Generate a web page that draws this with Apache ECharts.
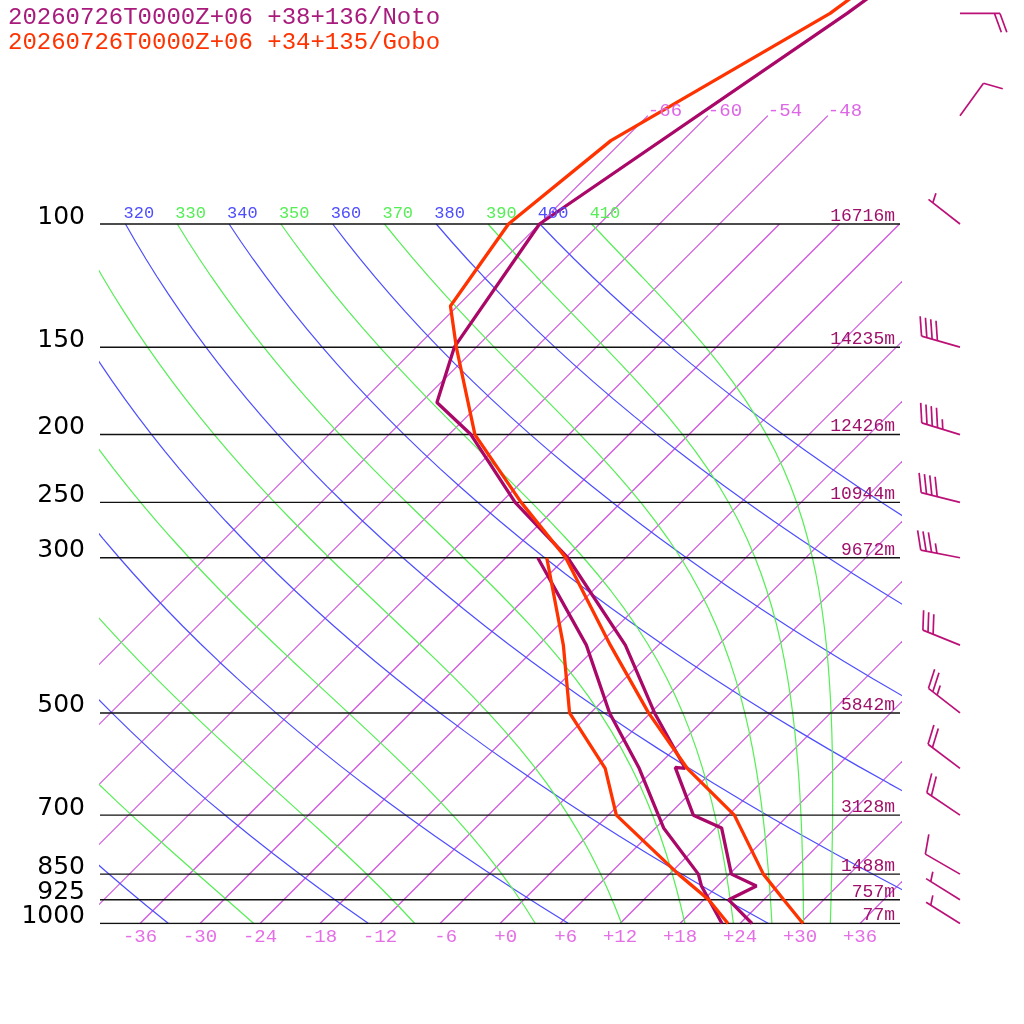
<!DOCTYPE html>
<html>
<head>
<meta charset="utf-8">
<title>Skew-T Noto / Gobo</title>
<script src="https://cdn.jsdelivr.net/npm/echarts@6/dist/echarts.min.js"></script>
<style>
  html, body { margin: 0; padding: 0; background: #fff; }
  #main { width: 1024px; height: 1024px; }
</style>
</head>
<body>
<div id="main"></div>
<script>
// plot geometry: 1000 hPa at the bottom, 45 degree isotherms
var DECADE_PX = 699.5, PLOT_H = 923.5, PLOT_W = 800;
var P_TOP = 1000 / Math.pow(10, PLOT_H / DECADE_PX);
var SKEW = DECADE_PX / Math.LN10 / (PLOT_W / 80);

// background lines
var isoTemps = [-66, -60, -54, -48, -42, -36, -30, -24, -18, -12, -6, 0, 6, 12, 18, 24, 30, 36];
var isoTopTemps = [-66, -60, -54, -48];
var isoTopP = 70;
var dryThetas = [240, 260, 280, 300, 320, 340, 360, 380, 400];
var moistThetas = [230, 250, 270, 290, 310, 330, 350, 370, 390, 410];
var levels = [100, 150, 200, 250, 300, 500, 700, 850, 925, 1000];
var heights = ['16716m', '14235m', '12426m', '10944m', '9672m', '5842m', '3128m', '1488m', '757m', '77m'];
var tempTicks = [-36, -30, -24, -18, -12, -6, 0, 6, 12, 18, 24, 30, 36];

// Noto sounding
var notoP   = [40, 50, 100, 150, 180, 200, 250, 300, 400, 500, 600, 598, 700, 730, 850, 884, 925, 1000];
var notoT   = [-53.8, -56.3, -66.0, -62.2, -58.4, -51.8, -40.6, -29.8, -15.3, -5.6, 3.0, 1.9, 8.5, 12.6, 18.2, 21.9, 20.5, 25.2];
var notoTdP = [300, 400, 500, 600, 700, 730, 850, 884, 1000];
var notoTd  = [-32.8, -19.2, -10.1, -1.6, 5.0, 6.8, 14.9, 16.4, 22.2];

// Gobo sounding
var goboP   = [40, 50, 76, 100, 131, 150, 200, 250, 300, 400, 500, 600, 700, 850, 925, 1000];
var goboT   = [-55.6, -58.0, -67.2, -69.1, -66.7, -62.0, -51.4, -40.0, -30.0, -16.8, -6.2, 3.2, 12.6, 21.4, 26.0, 30.3];
var goboTdP = [300, 400, 500, 600, 700, 850, 925, 1000];
var goboTd  = [-31.9, -21.5, -14.1, -5.0, 0.8, 12.9, 18.5, 22.8];

// Noto winds (direction deg, speed kt)
var windP   = [50, 70, 100, 150, 200, 250, 300, 400, 500, 600, 700, 850, 925, 1000];
var windDir = [90, 36, 308, 286, 287, 284, 281, 292, 308, 307, 304, 300, 302, 302];
var windKt  = [20, 10, 5, 40, 45, 40, 35, 30, 25, 20, 20, 10, 5, 5];

var C_NOTO = '#aa0868', C_GOBO = '#ff3300', C_ISO = '#d052e0', C_DRY = '#4d4dff', C_MOIST = '#55ee55';
var MONO = 'Liberation Mono';

function sx(T, p) { return T + SKEW * Math.log(1000 / p); }

function line(pts, color, width, z) {
  return { type: 'line', data: pts, symbol: 'none', silent: true, animation: false, z: z,
           lineStyle: { color: color, width: width } };
}

function dryLine(th) {
  var pts = [];
  for (var i = 0; i <= 40; i++) {
    var p = 100 * Math.pow(10, i / 40);
    pts.push([sx(th * Math.pow(p / 1000, 0.2857) - 273.15, p), p]);
  }
  return pts;
}

// pseudo-adiabat started at 100 hPa with the labelled theta
function moistRate(T, lnp) {
  var p = Math.exp(lnp);
  var es = 6.112 * Math.exp(17.67 * (T - 273.15) / (T - 29.65));
  var rs = 0.622 * es / (p - es);
  var Lv = 2.501e6, Rd = 287.04, Cp = 1005.7;
  return (Rd * T + Lv * rs) / (Cp + Lv * Lv * rs * 0.622 / (Rd * T * T));
}
function moistLine(th) {
  var T = th * Math.pow(0.1, 0.2857);
  var lnp = Math.log(100), n = 240, h = (Math.log(1000) - lnp) / n;
  var pts = [[sx(T - 273.15, 100), 100]];
  for (var i = 0; i < n; i++) {
    var k1 = moistRate(T, lnp);
    var k2 = moistRate(T + h * k1 / 2, lnp + h / 2);
    var k3 = moistRate(T + h * k2 / 2, lnp + h / 2);
    var k4 = moistRate(T + h * k3, lnp + h);
    T += h * (k1 + 2 * k2 + 2 * k3 + k4) / 6;
    lnp += h;
    if ((i + 1) % 6 === 0) pts.push([sx(T - 273.15, Math.exp(lnp)), Math.exp(lnp)]);
  }
  return pts;
}

function profile(ps, ts) {
  return ps.map(function (p, i) { return [sx(ts[i], p), p]; });
}

var series = [];

isoTemps.forEach(function (t) {
  var top = isoTopTemps.indexOf(t) >= 0 ? isoTopP : 100;
  series.push(line([[sx(t, 1000), 1000], [sx(t, top), top]], C_ISO, 1.2, 1));
});
dryThetas.forEach(function (th) { series.push(line(dryLine(th), C_DRY, 1.2, 1)); });
moistThetas.forEach(function (th) { series.push(line(moistLine(th), C_MOIST, 1.2, 1)); });
levels.forEach(function (p) { series.push(line([[-40, p], [40, p]], '#111', 1.4, 2)); });

series.push(line(profile(notoP, notoT), C_NOTO, 3.3, 5));
series.push(line(profile(notoTdP, notoTd), C_NOTO, 3.3, 5));
series.push(line(profile(goboP, goboT), C_GOBO, 3.3, 6));
series.push(line(profile(goboTdP, goboTd), C_GOBO, 3.3, 6));

function labels(data, lab) {
  return { type: 'scatter', data: data, symbolSize: 0, silent: true, animation: false, z: 7,
           itemStyle: { opacity: 1 }, label: lab };
}

// pressure labels
series.push(labels(levels.map(function (p) { return [-40, p]; }), {
  show: true, position: 'left', distance: 15, offset: [0, -7],
  fontFamily: 'DejaVu Sans', fontSize: 25, color: '#000',
  formatter: function (d) { return String(d.value[1]); }
}));
// geopotential heights
series.push(labels(levels.map(function (p, i) { return { value: [40, p], name: heights[i] }; }), {
  show: true, position: [-5, -8], align: 'right', verticalAlign: 'middle',
  fontFamily: MONO, fontSize: 18, color: '#a0106a',
  formatter: function (d) { return d.name; }
}));
// isotherm labels
series.push(labels(isoTopTemps.map(function (t) { return { value: [sx(t, isoTopP), isoTopP], name: String(t) }; }), {
  show: true, position: [0, -5], align: 'left', verticalAlign: 'middle',
  fontFamily: MONO, fontSize: 19, color: '#dd66e6',
  formatter: function (d) { return d.name; }
}));
// adiabat labels along 100 hPa
function adiabatLabels(thetas, color, xs) {
  var data = [];
  thetas.forEach(function (th, i) {
    if (xs[i] > -40) data.push({ value: [xs[i], 100], name: String(th) });
  });
  return labels(data, {
    show: true, position: [-2, -11], align: 'left', verticalAlign: 'middle',
    fontFamily: MONO, fontSize: 17, color: color,
    formatter: function (d) { return d.name; }
  });
}
series.push(adiabatLabels(dryThetas, C_DRY, dryThetas.map(function (th) { return dryLine(th)[0][0]; })));
series.push(adiabatLabels(moistThetas, C_MOIST, moistThetas.map(function (th) { return moistLine(th)[0][0]; })));

// wind barbs to the right of the plot
series.push({
  type: 'custom', coordinateSystem: 'cartesian2d', silent: true, animation: false, clip: false, z: 8,
  data: windP.map(function (p, i) { return [0, p, windDir[i], windKt[i]]; }),
  encode: { x: 0, y: 1 },
  renderItem: function (params, api) {
    var y = api.coord([0, api.value(1)])[1];
    var x = params.coordSys.x + params.coordSys.width + 60;
    var d = api.value(2) * Math.PI / 180, kt = api.value(3);
    var ux = Math.sin(d), uy = -Math.cos(d);
    var a = 70 * Math.PI / 180;
    var fx = ux * Math.cos(a) - uy * Math.sin(a), fy = ux * Math.sin(a) + uy * Math.cos(a);
    var L = 40, S = 5.5, style = { stroke: '#bb1177', lineWidth: 1.7 };
    var tx = x + L * ux, ty = y + L * uy;
    var kids = [{ type: 'line', shape: { x1: x, y1: y, x2: tx, y2: ty }, style: style }];
    var pos = kt < 10 ? 1 : 0, rest = kt;
    function feather(len) {
      var bx = tx - pos * S * ux, by = ty - pos * S * uy;
      kids.push({ type: 'line', shape: { x1: bx, y1: by, x2: bx + len * fx, y2: by + len * fy }, style: style });
      pos++;
    }
    while (rest >= 10) { feather(20); rest -= 10; }
    if (rest >= 5) feather(10);
    return { type: 'group', children: kids };
  }
});

var chart = echarts.init(document.getElementById('main'));
chart.setOption({
  animation: false,
  backgroundColor: '#fff',
  title: [
    { text: '20260726T0000Z+06 +38+136/Noto', left: 8, top: 6, padding: 0,
      textStyle: { fontFamily: MONO, fontSize: 24, fontWeight: 'normal', color: '#a81a7c' } },
    { text: '20260726T0000Z+06 +34+135/Gobo', left: 8, top: 31, padding: 0,
      textStyle: { fontFamily: MONO, fontSize: 24, fontWeight: 'normal', color: C_GOBO } }
  ],
  grid: { left: 100, top: 0, width: PLOT_W, height: PLOT_H },
  xAxis: {
    type: 'value', min: -40, max: 40, interval: 2,
    axisLine: { show: false }, axisTick: { show: false }, splitLine: { show: false },
    axisLabel: {
      margin: 4, fontFamily: MONO, fontSize: 19, color: '#e46ee6',
      formatter: function (v) {
        if (tempTicks.indexOf(v) < 0) return '';
        var s = v > 0 || v === 0 ? '+' + v : String(v);
        while (s.length < 3) s = ' ' + s;
        return s;
      }
    }
  },
  yAxis: {
    type: 'log', logBase: 10, inverse: true, min: P_TOP, max: 1000,
    axisLine: { show: false }, axisTick: { show: false }, splitLine: { show: false },
    axisLabel: { show: false }
  },
  series: series
});
</script>
</body>
</html>
